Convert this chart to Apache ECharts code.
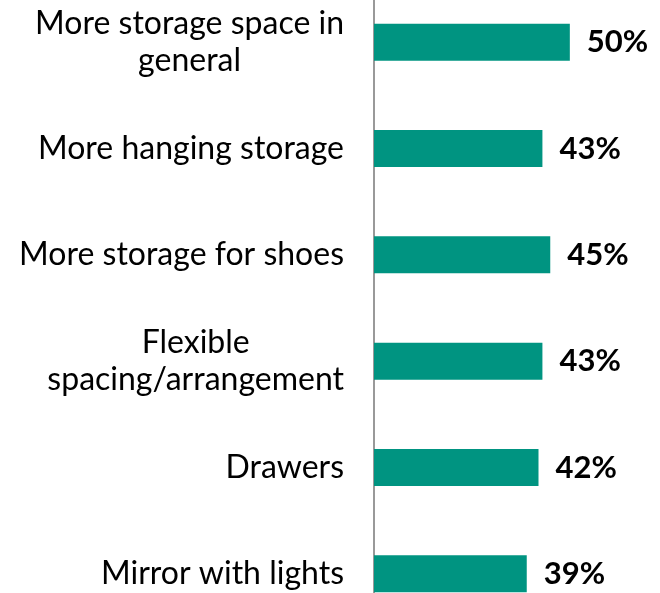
<!DOCTYPE html>
<html><head><meta charset="utf-8">
<script src="https://cdn.jsdelivr.net/npm/echarts@6/dist/echarts.min.js"></script>
<style>html,body{margin:0;padding:0;background:#fff;overflow:hidden;width:660px;height:593px}#c{position:absolute;left:0;top:-11px;width:660px;height:638px}</style>
</head><body><div id="c"></div>
<script>
const categories = ["More storage space in\ngeneral", "More hanging storage", "More storage for shoes", "Flexible\nspacing/arrangement", "Drawers", "Mirror with lights"];
const values = [50, 43, 45, 43, 42, 39];

const chart = echarts.init(document.getElementById('c'), null, {renderer: 'canvas'});
chart.setOption({
  animation: false,
  grid: {left: 374, right: 51, top: 0, bottom: 0, containLabel: false},
  xAxis: {type: 'value', min: 0, max: 60, show: false},
  yAxis: {
    type: 'category', data: categories, inverse: true,
    axisLine: {show: true, lineStyle: {color: '#999999', width: 2}},
    axisTick: {show: false},
    axisLabel: {
      margin: 30, color: '#000', fontFamily: 'Lato', fontSize: 32, lineHeight: 37,
      formatter: v => v.split('\n').map(s => '{c|' + s + '}').join('\n'),
      rich: {c: {align: 'center', fontFamily: 'Lato', fontSize: 32, lineHeight: 37, color: '#000'}}
    }
  },
  series: [{
    type: 'bar', data: values, barWidth: 37,
    itemStyle: {color: '#009481'},
    label: {show: true, position: 'right', distance: 17, formatter: '{c}%',
      fontFamily: 'Lato', fontWeight: 'bold', fontSize: 31, color: '#000'}
  }]
});
</script></body></html>
